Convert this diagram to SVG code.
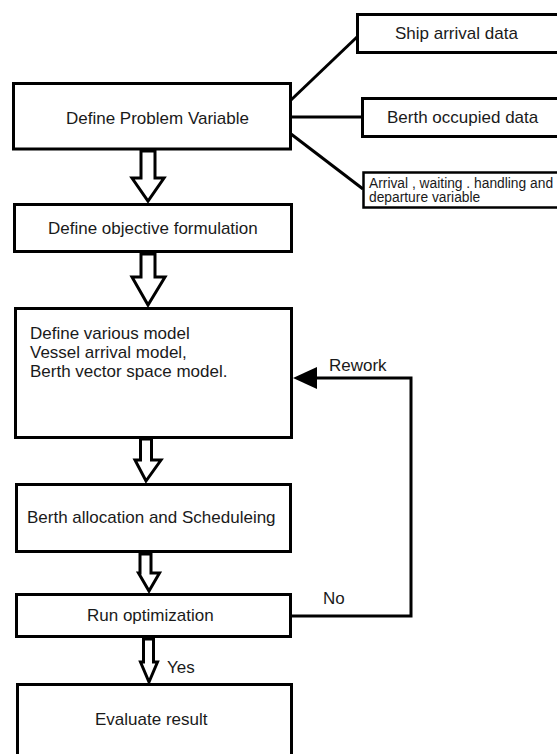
<svg xmlns="http://www.w3.org/2000/svg" width="557" height="754" viewBox="0 0 557 754">
<style>
.box{fill:#fff;stroke:#000;stroke-width:3}
.thin{fill:#fff;stroke:#000;stroke-width:2.5}
.blk{fill:#fff;stroke:#000;stroke-width:3;stroke-linejoin:miter}
.ln{fill:none;stroke:#000;stroke-width:3}
text{font-family:"Liberation Sans",Arial,sans-serif;font-size:17px;fill:#1a1a1a}
.sm{font-size:13.8px}
</style>
<rect width="557" height="754" fill="#fff"/>
<g id="connectors">
<line class="ln" x1="291" y1="100" x2="357" y2="37"/>
<line class="ln" x1="291" y1="117" x2="362" y2="117"/>
<line class="ln" x1="291" y1="134" x2="363" y2="189"/>
<polygon class="blk" points="141,151 155,151 155,178 164,178 148,201 132,178 141,178"/>
<polygon class="blk" points="141,254 155,254 155,277 165,277 148,305 132,277 141,277"/>
<polygon class="blk" points="140.5,439 151.5,439 151.5,460 161,460 146,481 135,460 140.5,460"/>
<polygon class="blk" points="140,554 151,554 151,573 159.5,573 149,591 138.5,573 140,573"/>
<polygon class="blk" points="143.5,639 153.5,639 153.5,662 157.5,662 149,682 140.5,662 143.5,662"/>
<polyline class="ln" points="292,616 411,616 411,378 316,378"/>
<polygon points="293,378 317,367 317,389" fill="#000"/>
<text x="329" y="371">Rework</text>
<text x="323" y="604">No</text>
<text x="167" y="673">Yes</text>
</g>
<g id="n1"><rect class="box" x="13.5" y="83.5" width="277" height="65.5"/><text x="66" y="124">Define Problem Variable</text></g>
<g id="n2"><rect class="box" x="357.5" y="14.5" width="210" height="38"/><text x="395" y="39">Ship arrival data</text></g>
<g id="n3"><rect class="box" x="362.5" y="98.5" width="210" height="38"/><text x="387" y="123">Berth occupied data</text></g>
<g id="n4"><rect class="thin" x="363.5" y="172.5" width="210" height="35"/><text class="sm" x="369" y="188">Arrival , waiting . handling and</text><text class="sm" x="369" y="202">departure variable</text></g>
<g id="n5"><rect class="box" x="14.5" y="204.5" width="277" height="47"/><text x="48" y="234">Define objective formulation</text></g>
<g id="n6"><rect class="box" x="15.5" y="308.5" width="276" height="129"/><text x="30" y="339">Define various model</text><text x="30" y="358">Vessel arrival model,</text><text x="30" y="377">Berth vector space model.</text></g>
<g id="n7"><rect class="box" x="16.5" y="484.5" width="274" height="67"/><text x="27" y="523">Berth allocation and Scheduleing</text></g>
<g id="n8"><rect class="box" x="16.5" y="594.5" width="274" height="42"/><text x="87" y="621">Run optimization</text></g>
<g id="n9"><rect class="box" x="17.5" y="684.5" width="274" height="90"/><text x="95" y="725">Evaluate result</text></g>
</svg>
